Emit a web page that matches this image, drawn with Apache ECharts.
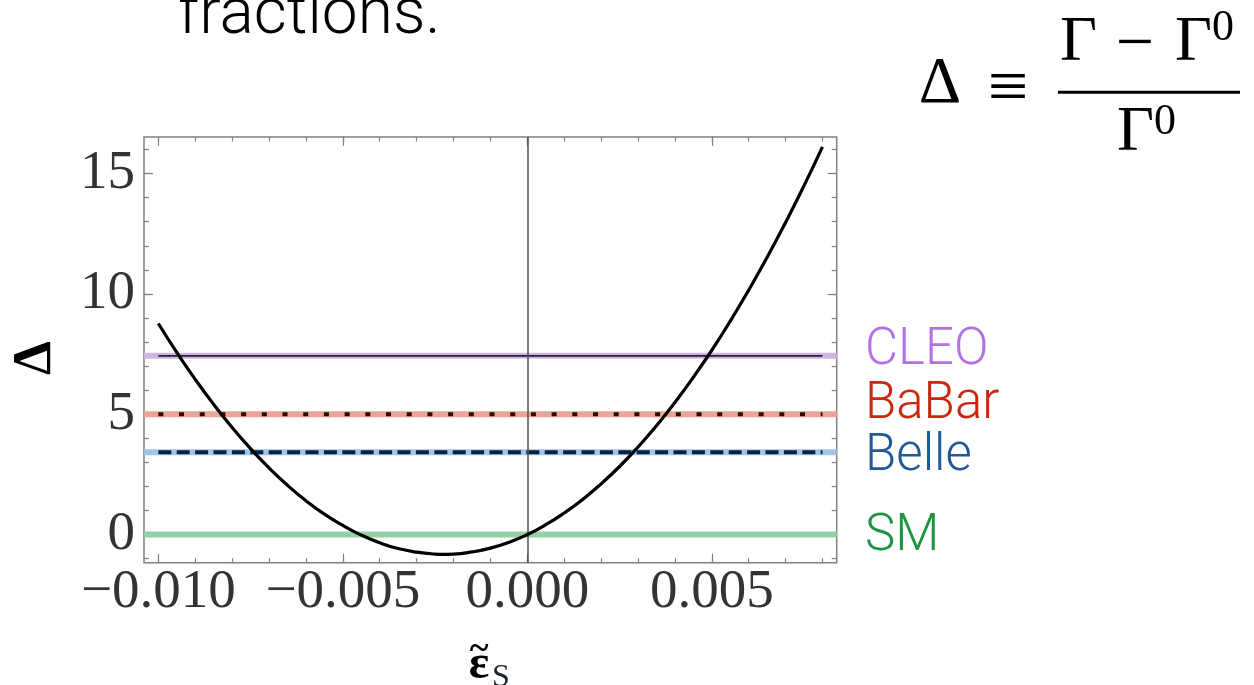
<!DOCTYPE html>
<html><head><meta charset="utf-8">
<script src="https://cdn.jsdelivr.net/npm/echarts@6/dist/echarts.min.js"></script>
<style>html,body{margin:0;padding:0;background:#fff;overflow:hidden}#c{width:1254px;height:685px;}</style>
</head><body><div id="c"></div>
<script>
// ---- data ----
const epsS = [-0.0100,-0.0095,-0.0090,-0.0085,-0.0080,-0.0075,-0.0070,-0.0065,-0.0060,-0.0055,
  -0.0050,-0.0045,-0.0040,-0.0035,-0.0030,-0.0025,-0.0023,-0.0020,-0.0015,-0.0010,-0.0005,
  0.0000,0.0005,0.0010,0.0015,0.0020,0.0025,0.0030,0.0035,0.0040,0.0045,
  0.0050,0.0055,0.0060,0.0065,0.0070,0.0075,0.0080];
const delta = [8.77,7.57,6.45,5.41,4.45,3.57,2.77,2.05,1.41,0.85,
  0.38,-0.02,-0.34,-0.58,-0.73,-0.81,-0.82,-0.81,-0.72,-0.56,-0.32,
  0.00,0.41,0.90,1.46,2.11,2.83,3.64,4.52,5.49,6.54,
  7.66,8.87,10.16,11.52,12.97,14.50,16.11];
const xMajorTicks = [-0.010,-0.005,0.000,0.005];
const xMinorTicks = [-0.010,-0.009,-0.008,-0.007,-0.006,-0.005,-0.004,-0.003,-0.002,-0.001,0.000,0.001,0.002,0.003,0.004,0.005,0.006,0.007,0.008];
const yMajorTicks = [0,5,10,15];
const yMinorTicks = [-1,0,1,2,3,4,5,6,7,8,9,10,11,12,13,14,15,16];
const refNames = ['CLEO','BaBar','Belle','SM'];
const refValues = [7.43,5.0,3.42,0];

// ---- styles ----
const X_MIN = -0.010388, X_MAX = 0.008385, Y_MIN = -1.167, Y_MAX = 16.52;
const bandColors = {CLEO:'#cdb6de', BaBar:'#eaa597', Belle:'#9fc6ea', SM:'#97d0a2'};
const textColors = {CLEO:'#b470e6', BaBar:'#c9280f', Belle:'#1f5a96', SM:'#1c9440'};
const overlay = {
  CLEO:{color:'#2e1c3e', width:1.8, type:'solid'},
  BaBar:{color:'#2a0d05', width:4, type:[5,15.7]},
  Belle:{color:'#0b2341', width:4, type:[13,5.4]}
};
const labelPos = {CLEO:351, BaBar:405, Belle:457, SM:537.5};
const frameColor = '#808080';
const serif = '"Liberation Serif","DejaVu Serif",serif';
const sans = 'Roboto,"Liberation Sans",sans-serif';

function fmtX(v){ const s = Math.abs(v).toFixed(3); return (v < -1e-12 ? '\u2212' : '') + s; }

function mkX(pos, ticks, len, labels){
  return {type:'value', gridIndex:0, position:pos, min:X_MIN, max:X_MAX,
    axisLine:{show:false, onZero:false}, splitLine:{show:false},
    axisTick:{show:true, inside:true, length:len, customValues:ticks, lineStyle:{color:frameColor, width:1.2}},
    axisLabel: labels ? {show:true, customValues:xMajorTicks, formatter:fmtX, margin:2,
      fontFamily:serif, fontSize:55, color:'#333'} : {show:false}};
}
function mkY(pos, ticks, len, labels){
  return {type:'value', gridIndex:0, position:pos, min:Y_MIN, max:Y_MAX,
    axisLine:{show:false, onZero:false}, splitLine:{show:false},
    axisTick:{show:true, inside:true, length:len, customValues:ticks, lineStyle:{color:frameColor, width:1.2}},
    axisLabel: labels ? {show:true, customValues:yMajorTicks, formatter:v=>String(v), margin:9,
      fontFamily:serif, fontSize:55, color:'#333'} : {show:false}};
}

const series = [];
refNames.forEach((n,i)=>{
  series.push({type:'line', name:n+'-band', data:[[X_MIN,refValues[i]],[X_MAX,refValues[i]]],
    symbol:'none', lineStyle:{color:bandColors[n], width:6, cap:'butt'}, z:1, silent:true});
});
// zero axis (vertical)
series.push({type:'line', name:'axis0', data:[], z:2, silent:true,
  markLine:{symbol:['none','none'], silent:true, label:{show:false},
    lineStyle:{color:'#505050', width:1.5, type:'solid'}, data:[{xAxis:0}]}});
['CLEO','BaBar','Belle'].forEach(n=>{
  const v = refValues[refNames.indexOf(n)];
  series.push({type:'line', name:n, data:[[epsS[0],v],[epsS[epsS.length-1],v]],
    symbol:'none', lineStyle:{color:overlay[n].color, width:overlay[n].width, type:overlay[n].type, cap:'butt'}, z:3, silent:true});
});
series.push({type:'line', name:'Delta', data:epsS.map((x,i)=>[x,delta[i]]), smooth:0.5,
  symbol:'none', lineStyle:{color:'#000', width:3.2}, z:5, silent:true});

const graphic = [];
refNames.forEach(n=>{
  graphic.push({type:'text', x:865, y:labelPos[n], style:{text:n, fill:textColors[n],
    font:'300 51px ' + sans, align:'left', verticalAlign:'middle'}});
});
// top cut-off text
graphic.push({type:'text', x:178, y:17, style:{text:'fractions.', fill:'#000', font:'300 64px '+sans, align:'left', verticalAlign:'middle'}});
// formula
graphic.push({type:'text', x:940, y:85, style:{text:'\u0394', fill:'#000', font:'66px '+serif, align:'center', verticalAlign:'middle'}});
graphic.push({type:'text', x:1008, y:91, style:{text:'\u2261', fill:'#000', font:'72px '+serif, align:'center', verticalAlign:'middle'}});
graphic.push({type:'text', x:1060, y:43, style:{text:'\u0393', fill:'#000', font:'64px '+serif, align:'left', verticalAlign:'middle'}});
graphic.push({type:'text', x:1135, y:46, style:{text:'\u2212', fill:'#000', font:'68px '+serif, align:'center', verticalAlign:'middle'}});
graphic.push({type:'text', x:1175, y:43, style:{text:'\u0393', fill:'#000', font:'64px '+serif, align:'left', verticalAlign:'middle'}});
graphic.push({type:'text', x:1212, y:28, style:{text:'0', fill:'#000', font:'44px '+serif, align:'left', verticalAlign:'middle'}});
graphic.push({type:'line', shape:{x1:1058,y1:92.3,x2:1240,y2:92.3}, style:{stroke:'#000', lineWidth:3}});
graphic.push({type:'text', x:1117, y:133, style:{text:'\u0393', fill:'#000', font:'64px '+serif, align:'left', verticalAlign:'middle'}});
graphic.push({type:'text', x:1154, y:122, style:{text:'0', fill:'#000', font:'44px '+serif, align:'left', verticalAlign:'middle'}});
// axis titles
graphic.push({type:'text', x:36, y:358, rotation:Math.PI/2, style:{text:'\u0394', fill:'#000', font:'bold 54px '+serif, align:'center', verticalAlign:'middle'}});
graphic.push({type:'text', x:479, y:666, style:{text:'\u03b5', fill:'#000', font:'bold 48px '+serif, align:'center', verticalAlign:'middle'}});
graphic.push({type:'text', x:479, y:650, style:{text:'~', fill:'#000', font:'bold 36px '+serif, align:'center', verticalAlign:'middle'}});
graphic.push({type:'text', x:492, y:678, style:{text:'S', fill:'#1a2233', font:'32px '+serif, align:'left', verticalAlign:'middle'}});

const chart = echarts.init(document.getElementById('c'), null, {renderer:'canvas'});
chart.setOption({
  animation:false,
  backgroundColor:'#fff',
  grid:{left:144, top:137, width:692.7, height:425.7, show:true, borderColor:frameColor, borderWidth:1.5, backgroundColor:'transparent'},
  xAxis:[mkX('bottom', xMajorTicks, 9, true), mkX('bottom', xMinorTicks, 4.5, false),
         mkX('top', xMajorTicks, 9, false), mkX('top', xMinorTicks, 4.5, false)],
  yAxis:[mkY('left', yMajorTicks, 9, true), mkY('left', yMinorTicks, 5, false),
         mkY('right', yMajorTicks, 9, false), mkY('right', yMinorTicks, 5, false)],
  series:series,
  graphic:graphic
});
</script></body></html>
